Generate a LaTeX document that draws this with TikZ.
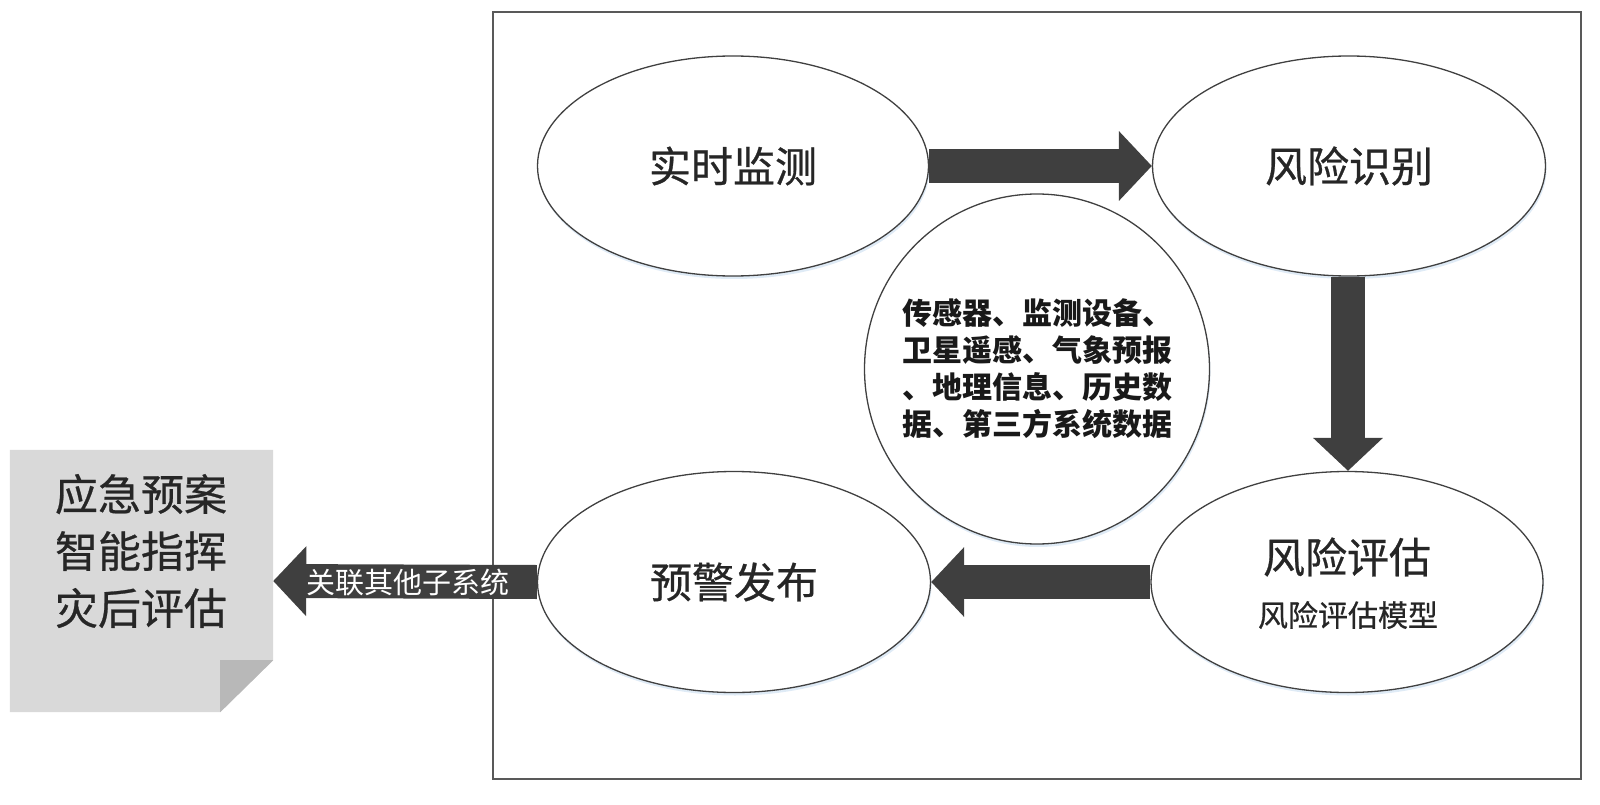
\documentclass[tikz,border=0pt]{standalone}
\usepackage{fontspec}
\newfontfamily\cjk{Noto Sans CJK SC}
\newfontfamily\cjkm[FakeBold=0.6]{Noto Sans CJK SC}
\usetikzlibrary{arrows.meta,shadows,calc,shapes.geometric}
\definecolor{arrowgray}{HTML}{3F3F3F}
\definecolor{linegray}{HTML}{404040}
\definecolor{docgray}{HTML}{D9D9D9}
\definecolor{foldgray}{HTML}{B8B8B8}
\definecolor{glow}{HTML}{C9DDF0}
\tikzset{
  oval/.style={ellipse, draw=linegray, line width=1.3pt, fill=white, inner sep=0pt,
    drop shadow={fill=glow, opacity=0.6, shadow xshift=1pt, shadow yshift=-3pt}},
  bigtext/.style={font=\cjkm\fontsize{42}{48}\selectfont, text=black!85},
  blockarrow/.style={draw=arrowgray, line width=34pt, line cap=butt,
    -{Triangle[width=68pt,length=33pt]}},
}
\begin{document}
\begin{tikzpicture}[x=1pt,y=-1pt]
\useasboundingbox (0,0) rectangle (1600,805);
% outer frame
\draw[draw=black!65, line width=1.4pt] (493,12) rectangle (1581,779);

% ellipses
\node[oval, minimum width=391pt, minimum height=220pt] (mon) at (733,166) {};
\node[oval, minimum width=393pt, minimum height=220pt] (rid) at (1349,166) {};
\node[oval, minimum width=393pt, minimum height=221pt] (warn) at (734,582) {};
\node[oval, minimum width=392pt, minimum height=221pt] (ass) at (1347,582) {};
\node[oval, minimum width=345pt, minimum height=350pt] (src) at (1037,369) {};

\node[bigtext] at (mon) {实时监测};
\node[bigtext] at (rid) {风险识别};
\node[bigtext] at (warn) {预警发布};
\node[bigtext] at (1347,557) {风险评估};
\node[font=\cjkm\fontsize{30}{35}\selectfont, text=black!85] at (1348,615) {风险评估模型};
\node[font=\cjk\bfseries\fontsize{30}{37}\selectfont, text=black!90, align=left] at (src)
  {传感器、监测设备、\\卫星遥感、气象预报\\、地理信息、历史数\\据、第三方系统数据};

% block arrows
\draw[blockarrow] (mon.east) -- (rid.west);
\draw[blockarrow] (rid.south -| 1348,0) -- (ass.north -| 1348,0);
\draw[blockarrow] (ass.west) -- (warn.east);

% document shape
\node[minimum width=263pt, minimum height=262pt, inner sep=0pt] (doc) at (141.5,581) {};
\fill[docgray] (doc.north west) -- (doc.north east) -- ($(doc.south east)+(0,-52)$)
  -- ($(doc.south east)+(-53,0)$) -- (doc.south west) -- cycle;
\fill[foldgray] ($(doc.south east)+(0,-52)$) -- ($(doc.south east)+(-53,-52)$)
  -- ($(doc.south east)+(-53,0)$) -- cycle;
\node[font=\cjkm\fontsize{43}{57}\selectfont, text=black!85, align=center] at (141,551)
  {应急预案\\智能指挥\\灾后评估};

% link arrow
\draw[blockarrow] (warn.west) -- (doc.east);
\node[font=\cjk\fontsize{29}{32}\selectfont, text=white] (lnk) at (408,583) {关联其他子系统};
\end{tikzpicture}
\end{document}
